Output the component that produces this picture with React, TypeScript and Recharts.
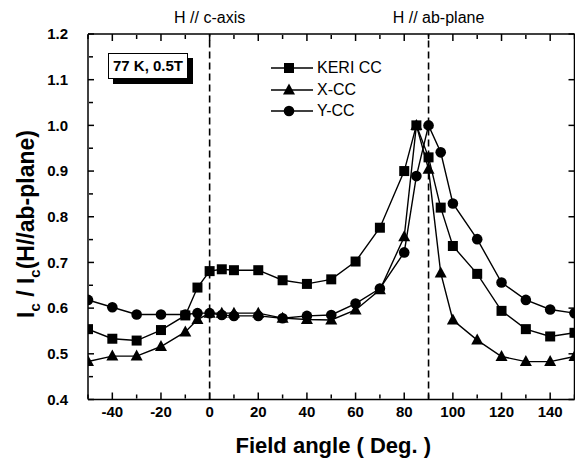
import { LineChart, Line, XAxis, YAxis, ReferenceLine, Legend } from "recharts";

const angles = [-50, -40, -30, -20, -10, -5, 0, 5, 10, 20, 30, 40, 50, 60, 70, 80, 85, 90, 95, 100, 110, 120, 130, 140, 150];
const keriCC = [0.554, 0.533, 0.529, 0.552, 0.584, 0.645, 0.681, 0.685, 0.683, 0.683, 0.661, 0.653, 0.663, 0.702, 0.776, 0.9, 1.0, 0.93, 0.82, 0.736, 0.675, 0.594, 0.554, 0.538, 0.546];
const xCC = [0.483, 0.495, 0.495, 0.516, 0.548, 0.575, 0.589, 0.589, 0.589, 0.589, 0.578, 0.575, 0.574, 0.596, 0.64, 0.756, 1.0, 0.904, 0.677, 0.574, 0.53, 0.494, 0.483, 0.483, 0.494];
const yCC = [0.618, 0.602, 0.586, 0.586, 0.586, 0.589, 0.589, 0.585, 0.583, 0.583, 0.578, 0.583, 0.585, 0.61, 0.643, 0.722, 0.889, 1.0, 0.941, 0.829, 0.751, 0.656, 0.618, 0.597, 0.589];

const xMajorTicks = [-40, -20, 0, 20, 40, 60, 80, 100, 120, 140];
const xMinorTicks = [-50, -30, -10, 10, 30, 50, 70, 90, 110, 130, 150];
const yMajorTicks = [0.4, 0.5, 0.6, 0.7, 0.8, 0.9, 1.0, 1.1, 1.2];
const yMinorTicks = [0.45, 0.55, 0.65, 0.75, 0.85, 0.95, 1.05, 1.15];

const seriesNames = ["KERI CC", "X-CC", "Y-CC"];
const seriesShapes = ["square", "triangle", "circle"];

const data = angles.map((a, i) => ({ angle: a, keri: keriCC[i], x: xCC[i], y: yCC[i] }));

const FONT = "'Liberation Sans', Arial, sans-serif";
const axisStroke = { stroke: "#000", strokeWidth: 1.5 };
const X_DOMAIN: [number, number] = [-50, 150];
const Y_DOMAIN: [number, number] = [0.4, 1.2];

const noTick = () => <g />;

function marker(shape: string, cx: number, cy: number, key?: string | number) {
  if (shape === "square") return <rect key={key} x={cx - 5} y={cy - 5} width={10} height={10} fill="#000" />;
  if (shape === "triangle")
    return <polygon key={key} points={`${cx},${cy - 6.5} ${cx + 6},${cy + 4.5} ${cx - 6},${cy + 4.5}`} fill="#000" />;
  return <circle key={key} cx={cx} cy={cy} r={5.3} fill="#000" />;
}

const dotFor = (shape: string) => (p: any) => marker(shape, p.cx, p.cy, `${shape}-${p.index}`);

function renderLegend() {
  return (
    <div style={{ fontFamily: FONT, fontSize: 16, color: "#000" }}>
      {seriesNames.map((name, i) => (
        <div key={name} style={{ display: "flex", alignItems: "center", height: 21.7 }}>
          <svg width={46} height={14}>
            <line x1={0} y1={7} x2={42} y2={7} stroke="#000" strokeWidth={1.4} />
            {marker(seriesShapes[i], 18, 7)}
          </svg>
          <span style={{ lineHeight: "16px" }}>{name}</span>
        </div>
      ))}
    </div>
  );
}

function renderXTitle(props: any) {
  const vb = props.viewBox;
  return (
    <text x={vb.x + vb.width / 2 + 2} y={vb.y + 53.5} textAnchor="middle" fontFamily={FONT} fontWeight="bold" fontSize={22} fill="#000">
      Field angle ( Deg. )
    </text>
  );
}

function renderYTitle() {
  const cx = 34;
  const cy = 224;
  return (
    <text x={cx} y={cy} transform={`rotate(-90, ${cx}, ${cy})`} textAnchor="middle" fontFamily={FONT} fontWeight="bold" fontSize={23} fill="#000">
      <tspan>I</tspan>
      <tspan dy={6} fontSize={15}>c</tspan>
      <tspan dy={-6}> / I</tspan>
      <tspan dy={6} fontSize={15}>c</tspan>
      <tspan dy={-6}>(H//ab-plane)</tspan>
    </text>
  );
}

const tickFont = { fontFamily: FONT, fontWeight: "bold", fontSize: 15, fill: "#000" };

export default function App() {
  return (
    <div style={{ position: "absolute", left: 0, top: 0, width: 575, height: 463, overflow: "hidden", background: "#fff" }}>
      <LineChart width={600} height={463} data={data} margin={{ top: 34, right: 25.5, bottom: 0, left: 0 }}>
        {/* bottom axis: inward ticks, labels below */}
        <XAxis xAxisId="b" dataKey="angle" type="number" domain={X_DOMAIN} allowDataOverflow ticks={xMajorTicks} mirror height={1} tickSize={7} tick={noTick} axisLine={axisStroke} tickLine={axisStroke} />
        <XAxis xAxisId="bm" dataKey="angle" type="number" domain={X_DOMAIN} allowDataOverflow ticks={xMinorTicks} mirror height={1} tickSize={4} tick={noTick} axisLine={false} tickLine={axisStroke} />
        <XAxis xAxisId="bl" dataKey="angle" type="number" domain={X_DOMAIN} allowDataOverflow ticks={xMajorTicks} height={63.5} tickSize={0} tickMargin={7} axisLine={false} tickLine={false} tick={tickFont} label={{ content: renderXTitle }} />
        {/* top frame */}
        <XAxis xAxisId="t" orientation="top" dataKey="angle" type="number" domain={X_DOMAIN} allowDataOverflow ticks={xMajorTicks} mirror height={1} tickSize={7} tick={noTick} axisLine={axisStroke} tickLine={axisStroke} />
        <XAxis xAxisId="tm" orientation="top" dataKey="angle" type="number" domain={X_DOMAIN} allowDataOverflow ticks={xMinorTicks} mirror height={1} tickSize={4} tick={noTick} axisLine={false} tickLine={axisStroke} />
        {/* left axis */}
        <YAxis yAxisId="l" type="number" domain={Y_DOMAIN} allowDataOverflow ticks={yMajorTicks} mirror width={1} tickSize={6} tick={noTick} axisLine={axisStroke} tickLine={axisStroke} />
        <YAxis yAxisId="lm" type="number" domain={Y_DOMAIN} allowDataOverflow ticks={yMinorTicks} mirror width={1} tickSize={4} tick={noTick} axisLine={false} tickLine={axisStroke} />
        <YAxis yAxisId="ll" type="number" domain={Y_DOMAIN} allowDataOverflow ticks={yMajorTicks} width={88} tickSize={0} tickMargin={20} axisLine={false} tickLine={false} tick={tickFont} tickFormatter={(v: number) => v.toFixed(1)} label={{ content: renderYTitle }} />
        {/* right frame */}
        <YAxis yAxisId="r" orientation="right" type="number" domain={Y_DOMAIN} allowDataOverflow ticks={yMajorTicks} mirror width={1} tickSize={6} tick={noTick} axisLine={axisStroke} tickLine={axisStroke} />

        <ReferenceLine xAxisId="b" yAxisId="l" x={0} stroke="#000" strokeWidth={1.6} strokeDasharray="7 4" label={{ value: "H // c-axis", position: "top", offset: 11, fill: "#000", fontSize: 16, fontFamily: FONT }} />
        <ReferenceLine xAxisId="b" yAxisId="l" x={90} stroke="#000" strokeWidth={1.6} strokeDasharray="7 4" label={{ value: "H // ab-plane", position: "top", offset: 11, dx: 10, fill: "#000", fontSize: 16, fontFamily: FONT }} />

        <Line xAxisId="b" yAxisId="l" type="linear" dataKey="keri" name="KERI CC" stroke="#000" strokeWidth={1.4} dot={dotFor("square")} isAnimationActive={false} />
        <Line xAxisId="b" yAxisId="l" type="linear" dataKey="x" name="X-CC" stroke="#000" strokeWidth={1.4} dot={dotFor("triangle")} isAnimationActive={false} />
        <Line xAxisId="b" yAxisId="l" type="linear" dataKey="y" name="Y-CC" stroke="#000" strokeWidth={1.4} dot={dotFor("circle")} isAnimationActive={false} />

        <Legend layout="vertical" align="center" verticalAlign="middle" content={renderLegend} wrapperStyle={{ left: 271, top: 57, width: 130, transform: "none" }} />
      </LineChart>
      <div
        style={{
          position: "absolute",
          left: 108,
          top: 53,
          width: 78,
          height: 24,
          border: "1px solid #000",
          background: "#fff",
          boxShadow: "5px 5px 0 #000",
          fontFamily: FONT,
          fontWeight: "bold",
          fontSize: 15,
          lineHeight: "24px",
          textAlign: "center",
          color: "#000",
        }}
      >
        77 K, 0.5T
      </div>
    </div>
  );
}
